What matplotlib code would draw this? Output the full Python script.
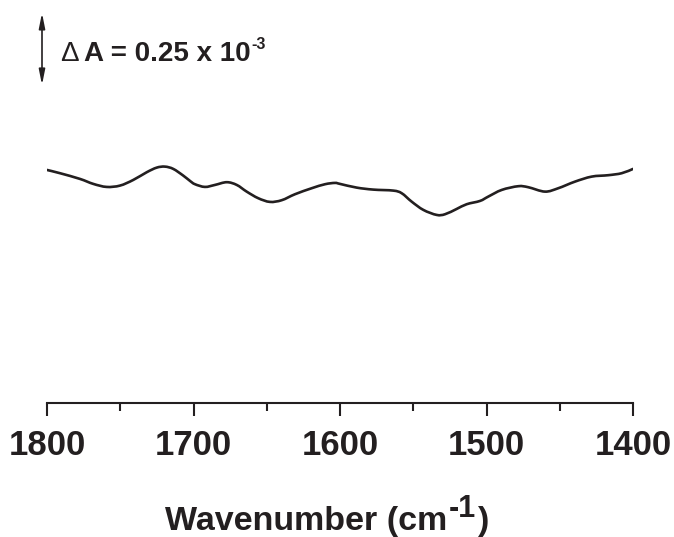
import matplotlib
matplotlib.use("Agg")
import numpy as np
import matplotlib.pyplot as plt
from matplotlib.path import Path
from matplotlib.patches import PathPatch
from matplotlib.transforms import blended_transform_factory

# ---- data ----
wavenumber = [1800, 1791.1, 1777.5, 1768.4, 1759.3, 1750.2, 1741.1, 1731.9, 1725.1,
              1719.5, 1713.8, 1707.0, 1702.4, 1699.0, 1692.2, 1685.3, 1677.3, 1670.5,
              1663.7, 1655.8, 1647.8, 1639.8, 1630.7, 1619.3, 1610.2, 1603.4, 1600.0,
              1588.6, 1577.3, 1563.6, 1557.9, 1551.1, 1543.1, 1534.0, 1528.3, 1520.3,
              1513.5, 1504.4, 1498.8, 1489.6, 1478.3, 1471.5, 1460.1, 1451.0, 1439.6,
              1428.2, 1416.9, 1407.7, 1400]
absorbance_e3 = [0.104, 0.0927, 0.0729, 0.0556, 0.0451, 0.0497, 0.0694, 0.0962, 0.1121,
                 0.1156, 0.1076, 0.0844, 0.0660, 0.0545, 0.0451, 0.0521, 0.0615, 0.0521,
                 0.0288, 0.0059, -0.0069, -0.0010, 0.0198, 0.0406, 0.0545, 0.0590, 0.0556,
                 0.0427, 0.0358, 0.0323, 0.0233, -0.0059, -0.0347, -0.0521, -0.0497, -0.0312,
                 -0.0149, -0.0035, 0.0115, 0.0347, 0.0476, 0.0441, 0.0288, 0.0406, 0.0635,
                 0.0809, 0.0858, 0.0927, 0.1076]
major_ticks = [1800, 1700, 1600, 1500, 1400]
minor_ticks = [1750, 1650, 1550, 1450]
scale_bar = 0.25  # x 10^-3 absorbance units

INK = "#231f20"
FONT = "Liberation Sans"

W, H = 674, 537
fig = plt.figure(figsize=(W / 100, H / 100), dpi=100)
ax = fig.add_axes([47 / W, 134 / H, 586 / W, 403 / H])
ax.set_xlim(1800, 1400)
ax.set_ylim(-0.705, 0.694)

# smooth curve through the data points (Catmull-Rom as cubic Bezier, in data coords)
P = np.column_stack([wavenumber, absorbance_e3])
ext = np.vstack([P[0], P, P[-1]])
verts = [tuple(P[0])]
codes = [Path.MOVETO]
for i in range(1, len(ext) - 2):
    p0, p1, p2, p3 = ext[i - 1], ext[i], ext[i + 1], ext[i + 2]
    c1 = p1 + (p2 - p0) / 6.0
    c2 = p2 - (p3 - p1) / 6.0
    verts += [tuple(c1), tuple(c2), tuple(p2)]
    codes += [Path.CURVE4] * 3
ax.add_patch(PathPatch(Path(verts, codes), facecolor="none", edgecolor=INK, lw=1.9,
                       capstyle="round", joinstyle="round"))

for s in ("top", "left", "right"):
    ax.spines[s].set_visible(False)
ax.spines["bottom"].set_linewidth(1.5)
ax.spines["bottom"].set_color(INK)
ax.set_yticks([])
ax.set_xticks(major_ticks)
ax.set_xticks(minor_ticks, minor=True)
ax.tick_params(axis="x", which="major", direction="out", length=9.5, width=1.5,
               color=INK, pad=9.5)
ax.tick_params(axis="x", which="minor", direction="out", length=5.5, width=1.5,
               color=INK)
for lab in ax.get_xticklabels():
    lab.set_fontfamily(FONT)
    lab.set_fontweight("bold")
    lab.set_fontsize(25)
    lab.set_color(INK)

# x-axis label built from pieces so that the superscript is large
fig.canvas.draw()
r = fig.canvas.get_renderer()
t1 = fig.text(165 / W, (H - 530) / H, "Wavenumber (cm", family=FONT, weight="bold",
              fontsize=24.5, color=INK, ha="left", va="baseline")
bb = t1.get_window_extent(r)
t2 = fig.text(bb.x1 / W + 2 / W, (H - 530 + 13) / H, "-1", family=FONT, weight="bold",
              fontsize=22, color=INK, ha="left", va="baseline")
bb2 = t2.get_window_extent(r)
fig.text(bb2.x1 / W + 2 / W, (H - 530) / H, ")", family=FONT, weight="bold",
         fontsize=24.5, color=INK, ha="left", va="baseline")

# scale bar arrow
trans = blended_transform_factory(ax.transAxes, ax.transData)
top = 0.649
ax.annotate("", xy=(-5 / 586, top - scale_bar), xytext=(-5 / 586, top),
            xycoords=trans, textcoords=trans, annotation_clip=False,
            arrowprops=dict(arrowstyle="<|-|>,head_length=0.9,head_width=0.18",
                            color=INK, lw=1.2, shrinkA=0, shrinkB=0))
fig.text(60 / W, (H - 61) / H, "\u0394", family=FONT, fontsize=20, color=INK,
         ha="left", va="baseline")
ta = fig.text(84 / W, (H - 61) / H, "A = 0.25 x 10", family=FONT, weight="bold",
              fontsize=20, color=INK, ha="left", va="baseline")
bba = ta.get_window_extent(r)
fig.text(bba.x1 / W + 1 / W, (H - 61 + 12) / H, "-3", family=FONT, weight="bold",
         fontsize=11.5, color=INK, ha="left", va="baseline")

fig.savefig("out.png", dpi=100)
